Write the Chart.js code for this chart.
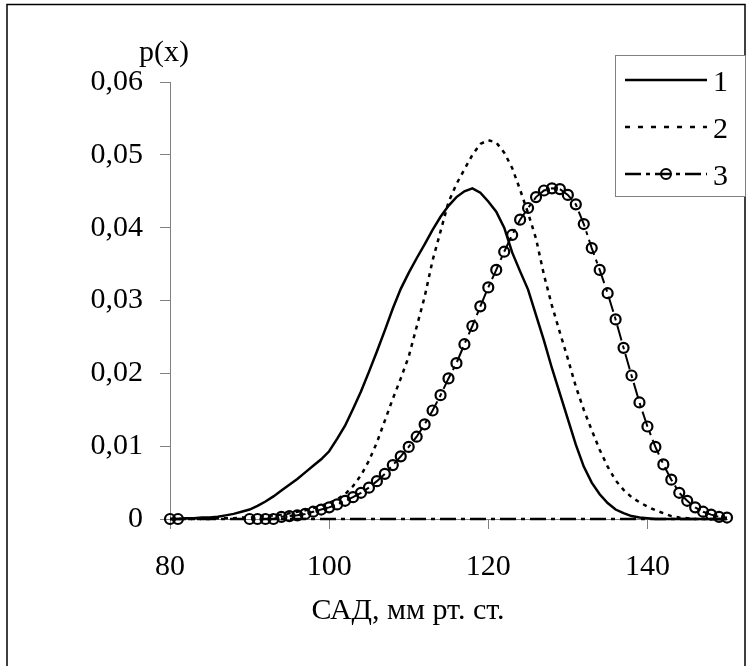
<!DOCTYPE html>
<html>
<head>
<meta charset="utf-8">
<script src="https://cdn.jsdelivr.net/npm/chart.js@4/dist/chart.umd.min.js"></script>
<style>
  html, body { margin: 0; padding: 0; background: #fff; }
  #wrap { width: 747px; height: 666px; position: relative; }
</style>
</head>
<body>
<div id="wrap"><canvas id="chart" width="747" height="666"></canvas></div>
<script>
// САД values for curves 1 and 2
const sadValues = [80, 81, 82, 83, 84, 85, 86, 87, 88, 89, 90, 91, 92, 93, 94, 95, 96, 97, 98, 99,
  100, 101, 102, 103, 104, 105, 106, 107, 108, 109, 110, 111, 112, 113, 114, 115, 116, 117, 118, 119,
  120, 121, 122, 123, 124, 125, 126, 127, 128, 129, 130, 131, 132, 133, 134, 135, 136, 137, 138, 139,
  140, 141, 142, 143, 144, 145, 146, 147, 148, 149, 150];

const series1 = [0, 0, 0.0001, 0.0001, 0.0002, 0.0002, 0.0003, 0.0005, 0.0007, 0.001,
  0.0013, 0.0018, 0.0024, 0.0031, 0.0039, 0.0047, 0.0055, 0.0064, 0.0073, 0.0082,
  0.0093, 0.011, 0.0128, 0.0151, 0.0175, 0.0202, 0.023, 0.0259, 0.0289, 0.0316,
  0.0338, 0.0358, 0.0377, 0.0397, 0.0415, 0.043, 0.0442, 0.045, 0.0454, 0.0448,
  0.0436, 0.0422, 0.04, 0.0366, 0.034, 0.0315, 0.028, 0.0245, 0.0207, 0.0172,
  0.0137, 0.0102, 0.0072, 0.005, 0.0034, 0.0022, 0.0013, 0.0008, 0.0004, 0.0002,
  0.0001, 0, 0, 0, 0, 0, 0, 0, 0, 0, 0];

const series2 = [0, 0, 0, 0, 0, 0, 0.0001, 0.0001, 0.0001, 0.0002,
  0.0002, 0.0003, 0.0004, 0.0005, 0.0006, 0.0008, 0.001, 0.0012, 0.0015, 0.0018,
  0.0022, 0.0027, 0.0034, 0.0045, 0.006, 0.008, 0.0105, 0.0135, 0.0165, 0.0193,
  0.0223, 0.0264, 0.0305, 0.0355, 0.0395, 0.0435, 0.046, 0.048, 0.05, 0.0515,
  0.052, 0.0517, 0.0503, 0.0482, 0.0452, 0.042, 0.0385, 0.0335, 0.0293, 0.0256,
  0.022, 0.0182, 0.015, 0.0122, 0.0095, 0.0072, 0.0053, 0.004, 0.003, 0.0023,
  0.0017, 0.0012, 0.0008, 0.0004, 0.0002, 0.0001, 0, 0, 0, 0, 0];

// curve 3 (circles)
const sad3 = [80, 81, 90, 91, 92, 93, 94, 95, 96, 97, 98, 99,
  100, 101, 102, 103, 104, 105, 106, 107, 108, 109, 110, 111, 112, 113, 114, 115, 116, 117, 118, 119,
  120, 121, 122, 123, 124, 125, 126, 127, 128, 129, 130, 131, 132, 133, 134, 135, 136, 137, 138, 139,
  140, 141, 142, 143, 144, 145, 146, 147, 148, 149, 150];

const series3 = [0, 0, 0, 0, 0, 0, 0.0003, 0.0004, 0.0005, 0.0007, 0.001, 0.0013,
  0.0016, 0.002, 0.0025, 0.003, 0.0036, 0.0043, 0.0052, 0.0062, 0.0074, 0.0086,
  0.0099, 0.0113, 0.013, 0.0149, 0.017, 0.0193, 0.0214, 0.024, 0.0265, 0.0292,
  0.0318, 0.0342, 0.0367, 0.039, 0.0411, 0.0427, 0.0442, 0.0451, 0.0454, 0.0453,
  0.0445, 0.0432, 0.0405, 0.0372, 0.0342, 0.031, 0.0274, 0.0235, 0.0197, 0.016,
  0.0127, 0.0099, 0.0075, 0.0054, 0.0036, 0.0025, 0.0016, 0.001, 0.0006, 0.0003, 0.0002];

// zero baseline (dash-dot)
const baseX = [80, 150];
const baseY = [0, 0];

const xTicks = [80, 100, 120, 140];
const yTicks = [0, 0.01, 0.02, 0.03, 0.04, 0.05, 0.06];
const yTickLabels = ["0", "0,01", "0,02", "0,03", "0,04", "0,05", "0,06"];
const legendLabels = ["1", "2", "3"];
const xTitle = "САД, мм рт. ст.";
const yTitle = "p(x)";

const FONT = "'Liberation Serif', 'Times New Roman', serif";
const AXIS_GRAY = "#808080";
const DASH_DOT = [16, 5, 4, 5];

const pts = (xs, ys) => xs.map((x, i) => ({ x: x, y: ys[i] }));

const decor = {
  id: "decor",
  afterDraw(chart) {
    const ctx = chart.ctx;
    ctx.save();
    // outer frame
    ctx.strokeStyle = "#000";
    ctx.lineWidth = 1.5;
    ctx.strokeRect(7, 4.5, 738, 700);

    ctx.fillStyle = "#000";
    ctx.font = "30px " + FONT;
    ctx.textBaseline = "middle";
    ctx.textAlign = "center";
    ctx.fillText(yTitle, 164, 53);
    ctx.fillText(xTitle, 408, 611);

    // legend box
    ctx.strokeStyle = AXIS_GRAY;
    ctx.lineWidth = 1;
    ctx.fillStyle = "#fff";
    ctx.fillRect(615.5, 55.5, 130, 141);
    ctx.strokeRect(615.5, 55.5, 130, 141);

    const rows = [80, 127, 174];
    ctx.strokeStyle = "#000";
    // 1 solid
    ctx.lineWidth = 2.5;
    ctx.setLineDash([]);
    ctx.beginPath(); ctx.moveTo(625, rows[0]); ctx.lineTo(707, rows[0]); ctx.stroke();
    // 2 dotted
    ctx.setLineDash([5, 8]);
    ctx.beginPath(); ctx.moveTo(625, rows[1]); ctx.lineTo(707, rows[1]); ctx.stroke();
    // 3 dash-dot with circle
    ctx.setLineDash(DASH_DOT);
    ctx.beginPath(); ctx.moveTo(625, rows[2]); ctx.lineTo(707, rows[2]); ctx.stroke();
    ctx.setLineDash([]);
    ctx.lineWidth = 2;
    ctx.beginPath(); ctx.arc(666, rows[2], 5, 0, Math.PI * 2); ctx.stroke();

    ctx.fillStyle = "#000";
    ctx.textAlign = "left";
    legendLabels.forEach((t, i) => ctx.fillText(t, 713, rows[i] + 3));
    ctx.restore();
  }
};

new Chart(document.getElementById("chart"), {
  type: "line",
  data: {
    datasets: [
      {
        label: "base",
        data: pts(baseX, baseY),
        borderColor: "#000",
        borderWidth: 2.5,
        borderDash: DASH_DOT,
        pointRadius: 0,
        clip: false
      },
      {
        label: legendLabels[0],
        data: pts(sadValues, series1),
        borderColor: "#000",
        borderWidth: 2.5,
        pointRadius: 0,
        tension: 0,
        clip: false
      },
      {
        label: legendLabels[1],
        data: pts(sadValues, series2),
        borderColor: "#000",
        borderWidth: 2.5,
        borderDash: [4, 5],
        pointRadius: 0,
        tension: 0,
        clip: false
      },
      {
        label: legendLabels[2],
        data: pts(sad3, series3),
        borderColor: "#000",
        borderWidth: 2,
        borderDash: DASH_DOT,
        pointRadius: 5,
        pointBorderWidth: 2.2,
        pointBorderColor: "#000",
        pointBackgroundColor: "rgba(255,255,255,0)",
        tension: 0,
        clip: false
      }
    ]
  },
  options: {
    responsive: false,
    animation: false,
    layout: { padding: { top: 82, right: 20, left: 0, bottom: 0 } },
    plugins: {
      legend: { display: false },
      tooltip: { enabled: false }
    },
    scales: {
      x: {
        type: "linear",
        min: 80,
        max: 150,
        afterBuildTicks: s => { s.ticks = xTicks.map(v => ({ value: v })); },
        afterFit: s => { s.height = 147; },
        grid: { drawOnChartArea: false, drawTicks: true, tickLength: 10, color: AXIS_GRAY },
        border: { color: AXIS_GRAY, width: 1 },
        ticks: {
          color: "#000",
          font: { family: FONT, size: 30 },
          padding: 20,
          maxRotation: 0
        }
      },
      y: {
        min: 0,
        max: 0.06,
        afterBuildTicks: s => { s.ticks = yTicks.map(v => ({ value: v })); },
        afterFit: s => { s.width = 170; },
        grid: { drawOnChartArea: false, drawTicks: true, tickLength: 10, color: AXIS_GRAY },
        border: { color: AXIS_GRAY, width: 1 },
        ticks: {
          color: "#000",
          font: { family: FONT, size: 30 },
          padding: 17,
          callback: v => {
            const i = yTicks.findIndex(t => Math.abs(t - v) < 1e-9);
            return i >= 0 ? yTickLabels[i] : "";
          }
        }
      }
    }
  },
  plugins: [decor]
});
</script>
</body>
</html>
